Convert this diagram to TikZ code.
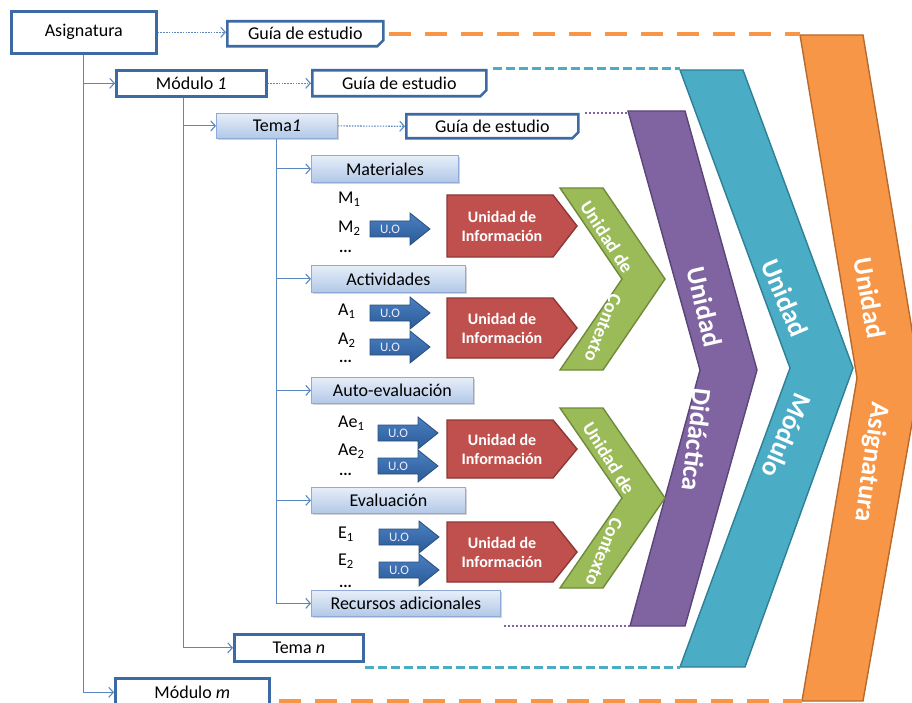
\documentclass[tikz,border=0pt]{standalone}
\usepackage{fontspec}
\setmainfont{Carlito}
\usetikzlibrary{arrows.meta,shadows,shapes.misc}

\definecolor{edgeblue}{HTML}{3D6AA5}
\definecolor{linkblue}{HTML}{5B87C0}
\definecolor{lightA}{HTML}{E6EEF9}
\definecolor{lightB}{HTML}{B2C8E7}
\definecolor{lightEdge}{HTML}{8FAAD6}
\definecolor{uoA}{HTML}{4A80C2}
\definecolor{uoB}{HTML}{2B5A96}
\definecolor{uoEdge}{HTML}{2A4E7E}
\definecolor{infoRed}{HTML}{C0504D}
\definecolor{infoEdge}{HTML}{8C3836}
\definecolor{ctxGreen}{HTML}{9BBB59}
\definecolor{ctxEdge}{HTML}{6F8A3C}
\definecolor{didPurple}{HTML}{8064A2}
\definecolor{didEdge}{HTML}{5A4577}
\definecolor{modTeal}{HTML}{4BACC6}
\definecolor{modEdge}{HTML}{2F7F95}
\definecolor{asiOrange}{HTML}{F79646}
\definecolor{asiEdge}{HTML}{B8692C}

\tikzset{
  boxfont/.style={font=\fontsize{18}{21}\selectfont},
  wbox/.style={boxfont, draw=edgeblue, line width=2.6pt, fill=white,
    anchor=north west, inner sep=0pt},
  gbox/.style={wbox, chamfered rectangle, chamfered rectangle corners=south east,
    chamfered rectangle xsep=3pt, chamfered rectangle ysep=3pt},
  lbox/.style={boxfont, draw=lightEdge, line width=0.8pt, top color=lightA,
    bottom color=lightB, anchor=north west, inner sep=0pt,
    drop shadow={shadow xshift=1.2pt, shadow yshift=-1.8pt, opacity=0.35}},
  conn/.style={draw=linkblue, line width=1.1pt,
    -{Straight Barb[length=4.5pt,width=10pt,line width=1.1pt]}},
  dconn/.style={conn, dash pattern=on 1.6pt off 1.2pt},
  odash/.style={draw=asiOrange, line width=3.5pt, dash pattern=on 22pt off 14pt},
  tdash/.style={draw=modTeal, line width=3pt, dash pattern=on 9pt off 4pt},
  pdot/.style={draw=didPurple, line width=2.5pt, dash pattern=on 2pt off 2pt},
  item/.style={font=\fontsize{18}{21}\selectfont, anchor=west, inner sep=0pt},
  dots/.style={font=\fontsize{16}{18}\bfseries\selectfont, anchor=base west, inner sep=0pt},
  uoshape/.style={draw=uoEdge, line width=0.8pt, top color=uoA, bottom color=uoB},
  uotext/.style={text=white!92!blue, font=\fontsize{13}{15}\selectfont, inner sep=0pt},
  infoshape/.style={draw=infoEdge, line width=1.4pt, fill=infoRed},
  infotext/.style={text=white, font=\fontsize{16}{19}\bfseries\selectfont,
    align=center, inner sep=0pt},
  ctxtext/.style={text=white, font=\fontsize{19}{22}\bfseries\selectfont, inner sep=0pt},
  bigtext/.style={text=white, font=\fontsize{27}{30}\bfseries\selectfont, inner sep=0pt},
}

% block arrow labelled U.O; #1 name, (#2,#3) left end of the shaft at mid height
\newcommand\uoarrow[3]{%
  \draw[uoshape] (#2,#3-8) -- ++(40,0) -- ++(0,-8) -- (#2+60,#3)
    -- (#2+40,#3+16) -- ++(0,-8) -- (#2,#3+8) -- cycle;
  \node[uotext] (#1) at (#2+20,#3) {U.O};
}
% pentagon "Unidad de Información"; #1 name, #2 top, #3 bottom
\newcommand\infobox[3]{%
  \draw[infoshape] (447,#2) -- (553,#2) -- (577,{(#2+#3)/2}) -- (553,#3)
    -- (447,#3) -- cycle;
  \node[infotext] (#1) at (502,{(#2+#3)/2}) {Unidad de\\Información};
}
% green chevron; #1 top, #2 middle, #3 bottom
\newcommand\ctxchevron[3]{%
  \draw[draw=ctxEdge, line width=1.4pt, fill=ctxGreen]
    (560,#1) -- (603,#1) -- (665,#2) -- (603,#3) -- (560,#3) -- (622,#2) -- cycle;
}

\begin{document}
\begin{tikzpicture}[x=1pt,y=-1pt]
\useasboundingbox (0,0) rectangle (912,703);
\clip (0,0) rectangle (912,703);

% ---- large chevrons: Unidad Asignatura / Módulo / Didáctica ----
\coordinate (orTL) at (800,35);
\coordinate (orBL) at (802,701);
\draw[draw=asiEdge, line width=1.4pt, fill=asiOrange]
  (orTL) -- (863,35) -- (920,378) -- (863,701) -- (orBL) -- (857,378) -- cycle;
\node[bigtext, rotate=-80] (asiU) at (870,298) {Unidad};
\node[bigtext, rotate=-98] (asiA) at (871,462) {Asignatura};

\coordinate (tlTL) at (680,70);
\coordinate (tlBL) at (680,667);
\draw[draw=modEdge, line width=1.4pt, fill=modTeal]
  (tlTL) -- (743,70) -- (853,368) -- (745,667) -- (tlBL) -- (790,368) -- cycle;
\node[bigtext, rotate=-67] (modU) at (785,298) {Unidad};
\node[bigtext, rotate=-113] (modM) at (787,436) {Módulo};

\coordinate (puTL) at (628,111);
\coordinate (puBL) at (630,626);
\draw[draw=didEdge, line width=1.4pt, fill=didPurple]
  (puTL) -- (685,111) -- (757,370) -- (685,626) -- (puBL) -- (700,370) -- cycle;
\node[bigtext, rotate=-77] (didU) at (705,307) {Unidad};
\node[bigtext, rotate=-97] (didD) at (697,440) {Didáctica};

% ---- context chevrons ----
\ctxchevron{188}{279}{370}
\node[ctxtext, rotate=-57] (ctx1a) at (607,237) {Unidad de};
\node[ctxtext, rotate=-112] (ctx1b) at (603,328) {Contexto};
\ctxchevron{408}{498}{588}
\node[ctxtext, rotate=-58] (ctx2a) at (609,458) {Unidad de};
\node[ctxtext, rotate=-112] (ctx2b) at (604,552) {Contexto};

% ---- information units ----
\infobox{info1}{195}{257}
\infobox{info2}{298}{358}
\infobox{info3}{420}{478}
\infobox{info4}{522}{582}

% ---- tree of boxes ----
\node[wbox, minimum width=145pt, minimum height=42pt] (asig) at (10,10) {Asignatura};
\node[gbox, minimum width=156pt, minimum height=25pt] (g1) at (226,20) {Guía de estudio};
\node[wbox, minimum width=150pt, minimum height=26pt] (mod1) at (115,69) {Módulo \textit{1}};
\node[gbox, minimum width=174pt, minimum height=26pt] (g2) at (311,69) {Guía de estudio};
\node[lbox, minimum width=121pt, minimum height=25pt] (tema1) at (216,113) {Tema\textit{1}};
\node[gbox, minimum width=172pt, minimum height=24pt] (g3) at (405,113) {Guía de estudio};
\node[lbox, minimum width=147pt, minimum height=27pt] (mat) at (311,155) {Materiales};
\node[lbox, minimum width=154pt, minimum height=27pt] (act) at (311,265) {Actividades};
\node[lbox, minimum width=162pt, minimum height=26pt] (auto) at (311,377) {Auto-evaluación};
\node[lbox, minimum width=154pt, minimum height=26pt] (eval) at (311,487) {Evaluación};
\node[lbox, minimum width=189pt, minimum height=26pt] (recu) at (311,590) {Recursos adicionales};
\node[wbox, minimum width=129pt, minimum height=27pt] (teman) at (233,633) {Tema \textit{n}};
\node[wbox, minimum width=154pt, minimum height=28pt] (modm) at (114,677) {Módulo \textit{m}};

% tree connectors
\draw[conn] (asig.south) |- (mod1.west);
\draw[conn] (asig.south) |- (modm.west);
\draw[conn] ([xshift=-8pt]mod1.south) |- (tema1.west);
\draw[conn] ([xshift=-8pt]mod1.south) |- (teman.west);
\draw[conn] (tema1.south) |- (mat.west);
\draw[conn] (tema1.south) |- (act.west);
\draw[conn] (tema1.south) |- (auto.west);
\draw[conn] (tema1.south) |- (eval.west);
\draw[conn] (tema1.south) |- (recu.west);

% study guide links
\draw[dconn] (asig.east) -- (asig.east -| g1.west);
\draw[dconn] (mod1.east) -- (g2.west);
\draw[dconn] (tema1.east) -- (g3.west);

% level guide lines towards the chevrons
\draw[odash] ([xshift=4pt]g1.east) -- (g1.east -| orTL);
\draw[odash] ([xshift=8pt]modm.south east |- orBL) -- (orBL);
\draw[tdash] ([xshift=5pt]g2.north east) -- (g2.north east -| tlTL);
\draw[tdash] (teman.south east |- tlBL) -- (tlBL);
\draw[pdot] ([xshift=5pt]g3.north east) -- (g3.north east -| puTL);
\draw[pdot] ([xshift=3pt]recu.south east |- puBL) -- (puBL);

% ---- items with their U.O arrows ----
\node[item] (m1) at (338,199) {M\textsubscript{1}};
\node[item] (m2) at (338,228) {M\textsubscript{2}};
\node[dots] (md) at (339,253) {...};
\uoarrow{uom2}{370}{229}

\node[item] (a1) at (338,311) {A\textsubscript{1}};
\node[item] (a2) at (338,340) {A\textsubscript{2}};
\node[dots] (ad) at (339,362) {...};
\uoarrow{uoa1}{370}{313}
\uoarrow{uoa2}{370}{347}

\node[item] (ae1) at (338,423) {Ae\textsubscript{1}};
\node[item] (ae2) at (338,451) {Ae\textsubscript{2}};
\node[dots] (aed) at (339,475) {...};
\uoarrow{uoae1}{378}{433}
\uoarrow{uoae2}{378}{466}

\node[item] (e1) at (338,534) {E\textsubscript{1}};
\node[item] (e2) at (338,561) {E\textsubscript{2}};
\node[dots] (ed) at (339,587) {...};
\uoarrow{uoe1}{379}{537}
\uoarrow{uoe2}{379}{570}
\end{tikzpicture}
\end{document}
